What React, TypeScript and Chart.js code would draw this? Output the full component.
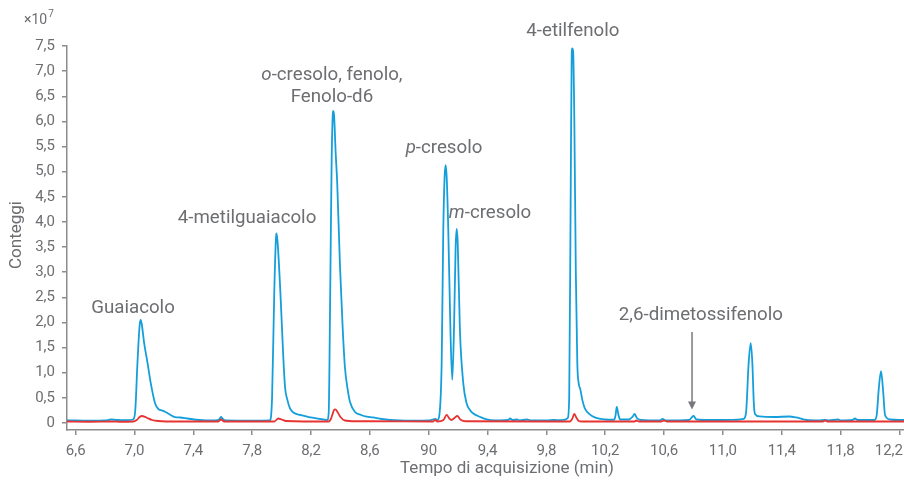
import React, { useEffect, useRef } from "react";
import { Chart, registerables } from "chart.js";

Chart.register(...registerables);

// ---- data (counts in units of 10^7, time in minutes) ----
const blueTime = [
  6.54, 6.6, 6.7, 6.8, 6.84, 6.88, 6.95, 6.99, 7.005, 7.02, 7.035, 7.042, 7.05, 7.065, 7.087, 7.11, 7.14, 7.165,
  7.185, 7.21, 7.24, 7.275, 7.31, 7.36, 7.44, 7.55, 7.575, 7.588, 7.6, 7.62, 7.8, 7.92, 7.935, 7.95, 7.962, 7.966,
  7.975, 7.994, 8.01, 8.023, 8.04, 8.057, 8.08, 8.125, 8.2, 8.283, 8.31, 8.32, 8.33, 8.34, 8.348, 8.351, 8.357,
  8.367, 8.378, 8.397, 8.415, 8.43, 8.45, 8.465, 8.499, 8.54, 8.578, 8.62, 8.68, 8.8, 8.9, 9.0, 9.03, 9.045, 9.06,
  9.072, 9.088, 9.099, 9.108, 9.115, 9.122, 9.133, 9.148, 9.16, 9.172, 9.183, 9.19, 9.197, 9.212, 9.235, 9.258,
  9.28, 9.303, 9.35, 9.394, 9.45, 9.54, 9.553, 9.57, 9.6, 9.62, 9.666, 9.7, 9.8, 9.85, 9.9, 9.93, 9.945, 9.955,
  9.965, 9.972, 9.976, 9.982, 9.99, 10.0, 10.01, 10.02, 10.03, 10.045, 10.06, 10.08, 10.11, 10.15, 10.2, 10.26,
  10.27, 10.278, 10.29, 10.3, 10.36, 10.385, 10.4, 10.415, 10.44, 10.5, 10.57, 10.59, 10.61, 10.7, 10.77, 10.8,
  10.82, 10.9, 11.0, 11.1, 11.14, 11.157, 11.175, 11.189, 11.2, 11.21, 11.218, 11.25, 11.35, 11.45, 11.5, 11.57,
  11.65, 11.694, 11.72, 11.784, 11.8, 11.88, 11.898, 11.915, 12.03, 12.045, 12.06, 12.075, 12.09, 12.102, 12.136,
  12.2, 12.24,
];
const blueCounts = [
  0.05, 0.05, 0.045, 0.05, 0.07, 0.06, 0.055, 0.07, 0.25, 1.2, 1.95, 2.05, 1.95, 1.6, 1.22, 0.8, 0.39, 0.27,
  0.25, 0.22, 0.17, 0.115, 0.11, 0.09, 0.06, 0.05, 0.07, 0.12, 0.08, 0.05, 0.045, 0.05, 0.5, 2.6, 3.7, 3.77,
  3.5, 2.45, 1.4, 0.72, 0.45, 0.29, 0.21, 0.16, 0.11, 0.07, 0.06, 0.2, 2.5, 5.2, 6.15, 6.21, 6.1,
  5.4, 4.77, 3.11, 1.9, 1.12, 0.65, 0.42, 0.22, 0.16, 0.125, 0.11, 0.08, 0.05, 0.045, 0.05, 0.07, 0.08, 0.06,
  0.15, 1.19, 3.84, 4.9, 5.13, 4.9, 3.84, 1.8, 0.86, 1.9, 3.5, 3.86, 3.6, 1.85, 0.79, 0.39,
  0.26, 0.19, 0.12, 0.07, 0.05, 0.06, 0.09, 0.06, 0.07, 0.05, 0.07, 0.05, 0.05, 0.06, 0.055, 0.07, 0.1, 0.5,
  4.5, 7.3, 7.45, 7.38, 6.0, 3.0, 1.2, 0.78, 0.68, 0.45, 0.3, 0.21, 0.14, 0.09, 0.07, 0.065,
  0.15, 0.32, 0.16, 0.07, 0.07, 0.12, 0.18, 0.1, 0.06, 0.05, 0.05, 0.08, 0.05, 0.05, 0.06, 0.14,
  0.07, 0.06, 0.06, 0.065, 0.08, 0.2, 1.2, 1.59, 1.2, 0.4, 0.18, 0.13, 0.12, 0.13, 0.11, 0.06,
  0.05, 0.06, 0.05, 0.07, 0.05, 0.06, 0.09, 0.06, 0.06, 0.15, 0.7, 1.03, 0.6, 0.16, 0.07,
  0.06, 0.06,
];

const redTime = [
  6.54, 6.7, 6.85, 6.9, 6.99, 7.015, 7.035, 7.05, 7.08, 7.12, 7.16, 7.3, 7.57, 7.588, 7.61, 7.95, 7.977, 8.0,
  8.03, 8.32, 8.335, 8.355, 8.365, 8.38, 8.4, 8.43, 8.5, 8.6, 9.03, 9.043, 9.06, 9.1, 9.122, 9.14, 9.155, 9.175,
  9.194, 9.215, 9.25, 9.96, 9.975, 9.99, 10.005, 10.02, 10.04, 10.4, 10.41, 10.43, 10.58, 10.6, 10.62, 11.68,
  11.695, 11.71, 12.24,
];
const redCounts = [
  0.03, 0.025, 0.03, 0.025, 0.03, 0.06, 0.12, 0.14, 0.11, 0.06, 0.04, 0.03, 0.03, 0.07, 0.03, 0.03, 0.09, 0.07,
  0.04, 0.03, 0.08, 0.25, 0.27, 0.22, 0.12, 0.05, 0.035, 0.035, 0.03, 0.06, 0.03, 0.06, 0.16, 0.09, 0.06, 0.1,
  0.14, 0.07, 0.035, 0.03, 0.08, 0.18, 0.1, 0.04, 0.03, 0.03, 0.05, 0.03, 0.03, 0.05, 0.03, 0.03,
  0.05, 0.03, 0.03,
];

const xTickValues = [6.6, 7.0, 7.4, 7.8, 8.2, 8.6, 9.0, 9.4, 9.8, 10.2, 10.6, 11.0, 11.4, 11.8, 12.2];
const xTickLabels = ["6,6", "7,0", "7,4", "7,8", "8,2", "8,6", "90", "9,4", "9,8", "10,2", "10,6", "11,0", "11,4", "11,8", "12,2"];
const yTickValues = [0, 0.5, 1, 1.5, 2, 2.5, 3, 3.5, 4, 4.5, 5, 5.5, 6, 6.5, 7, 7.5];
const yTickLabels = ["0", "0,5", "1,0", "1,5", "2,0", "2,5", "3,0", "3,5", "4,0", "4,5", "5,0", "5,5", "6,0", "6,5", "7,0", "7,5"];

type Part = { t: string; italic?: boolean };
const peakLabels: { parts: Part[]; x: number; y: number }[] = [
  { parts: [{ t: "Guaiacolo" }], x: 6.99, y: 2.29 },
  { parts: [{ t: "4-metilguaiacolo" }], x: 7.765, y: 4.08 },
  { parts: [{ t: "o", italic: true }, { t: "-cresolo, fenolo," }], x: 8.342, y: 6.92 },
  { parts: [{ t: "Fenolo-d6" }], x: 8.342, y: 6.48 },
  { parts: [{ t: "p", italic: true }, { t: "-cresolo" }], x: 9.104, y: 5.47 },
  { parts: [{ t: "m", italic: true }, { t: "-cresolo" }], x: 9.417, y: 4.18 },
  { parts: [{ t: "4-etilfenolo" }], x: 9.98, y: 7.8 },
  { parts: [{ t: "2,6-dimetossifenolo" }], x: 10.85, y: 2.15 },
];
const arrowX = 10.79;
const arrowFrom = 1.81;
const arrowTo = 0.27;

const FONT = "Roboto, 'Noto Sans', sans-serif";
const TEXT = "#6d6e71";
const AXIS = "#8c8c8c";
const BLUE = "#149fdb";
const RED = "#e63433";
const LABEL_SIZE = 18.7;

const annotationPlugin = {
  id: "annots",
  afterDraw(chart: any) {
    const ctx = chart.ctx as CanvasRenderingContext2D;
    const xs = chart.scales.x;
    const ys = chart.scales.y;
    ctx.save();
    ctx.fillStyle = TEXT;
    ctx.textBaseline = "middle";
    for (const lab of peakLabels) {
      const px = xs.getPixelForValue(lab.x);
      const py = ys.getPixelForValue(lab.y);
      let total = 0;
      const widths: number[] = [];
      for (const p of lab.parts) {
        ctx.font = `${p.italic ? "italic " : ""}${LABEL_SIZE}px ${FONT}`;
        const w = ctx.measureText(p.t).width;
        widths.push(w);
        total += w;
      }
      let cx = px - total / 2;
      ctx.textAlign = "left";
      lab.parts.forEach((p, i) => {
        ctx.font = `${p.italic ? "italic " : ""}${LABEL_SIZE}px ${FONT}`;
        ctx.fillText(p.t, cx, py);
        cx += widths[i];
      });
    }
    // arrow
    const ax = xs.getPixelForValue(arrowX);
    const ay1 = ys.getPixelForValue(arrowFrom);
    const ay2 = ys.getPixelForValue(arrowTo);
    ctx.strokeStyle = "#77787b";
    ctx.fillStyle = "#77787b";
    ctx.lineWidth = 1.5;
    ctx.beginPath();
    ctx.moveTo(ax, ay1);
    ctx.lineTo(ax, ay2 - 6);
    ctx.stroke();
    ctx.beginPath();
    ctx.moveTo(ax - 4, ay2 - 8);
    ctx.lineTo(ax + 4, ay2 - 8);
    ctx.lineTo(ax, ay2);
    ctx.closePath();
    ctx.fill();

    // x tick labels (last one kept inside the canvas)
    ctx.fillStyle = TEXT;
    ctx.font = `15px ${FONT}`;
    ctx.textBaseline = "middle";
    ctx.textAlign = "left";
    const W = chart.width;
    xTickValues.forEach((v, i) => {
      const lbl = xTickLabels[i];
      const w = ctx.measureText(lbl).width;
      let lx = xs.getPixelForValue(v) - w / 2;
      if (lx + w > W - 1) lx = W - 1 - w;
      ctx.fillText(lbl, lx, 451);
    });

    // axis titles
    ctx.font = `17px ${FONT}`;
    ctx.textAlign = "center";
    ctx.textBaseline = "middle";
    ctx.fillText("Tempo di acquisizione (min)", 507, 469);
    ctx.save();
    ctx.translate(17, 235);
    ctx.rotate(-Math.PI / 2);
    ctx.fillText("Conteggi", 0, 0);
    ctx.restore();
    // multiplier
    ctx.textAlign = "left";
    ctx.textBaseline = "alphabetic";
    ctx.font = `14px ${FONT}`;
    ctx.fillText("×10", 24, 24);
    const w = ctx.measureText("×10").width;
    ctx.font = `10px ${FONT}`;
    ctx.fillText("7", 24 + w + 1, 17);
    ctx.restore();
  },
};

export default function App() {
  const ref = useRef<HTMLCanvasElement | null>(null);
  useEffect(() => {
    document.body.style.margin = "0";
    if (!ref.current) return;
    const chart = new Chart(ref.current, {
      type: "line",
      data: {
        datasets: [
          {
            data: redTime.map((t, i) => ({ x: t, y: redCounts[i] })),
            borderColor: RED,
            borderWidth: 1.8,
            pointRadius: 0,
            fill: false,
            cubicInterpolationMode: "monotone",
          },
          {
            data: blueTime.map((t, i) => ({ x: t, y: blueCounts[i] })),
            borderColor: BLUE,
            borderWidth: 1.8,
            pointRadius: 0,
            fill: false,
            cubicInterpolationMode: "monotone",
          },
        ],
      },
      options: {
        animation: false,
        responsive: false,
        maintainAspectRatio: false,
        layout: { padding: { top: 46, left: 0, right: 0, bottom: 0 } },
        plugins: { legend: { display: false }, tooltip: { enabled: false } },
        scales: {
          x: {
            type: "linear",
            min: 6.541,
            max: 12.231,
            afterBuildTicks: (s: any) => {
              s.ticks = xTickValues.map((v) => ({ value: v }));
            },
            afterFit: (s: any) => {
              s.height = 51;
              s.paddingLeft = 0;
              s.paddingRight = 0;
            },
            grid: { drawOnChartArea: false, drawTicks: true, tickLength: 5, color: AXIS, lineWidth: 1.5 },
            border: { display: true, color: AXIS, width: 1.5 },
            ticks: { display: false, autoSkip: false, maxRotation: 0 },
          },
          y: {
            type: "linear",
            min: -0.139,
            max: 7.5,
            afterBuildTicks: (s: any) => {
              s.ticks = yTickValues.map((v) => ({ value: v }));
            },
            afterFit: (s: any) => {
              s.width = 67;
            },
            grid: { drawOnChartArea: false, drawTicks: true, tickLength: 5, color: AXIS, lineWidth: 1.5 },
            border: { display: true, color: AXIS, width: 1.5 },
            ticks: {
              callback: (_v: any, i: number) => yTickLabels[i],
              font: { family: FONT, size: 15 },
              color: TEXT,
              padding: 7,
              autoSkip: false,
            },
          },
        },
      },
      plugins: [annotationPlugin],
    } as any);
    return () => chart.destroy();
  }, []);
  return (
    <div style={{ position: "absolute", left: 0, top: 0, width: 904, height: 481 }}>
      <canvas ref={ref} width={904} height={481} style={{ width: 904, height: 481 }} />
    </div>
  );
}
